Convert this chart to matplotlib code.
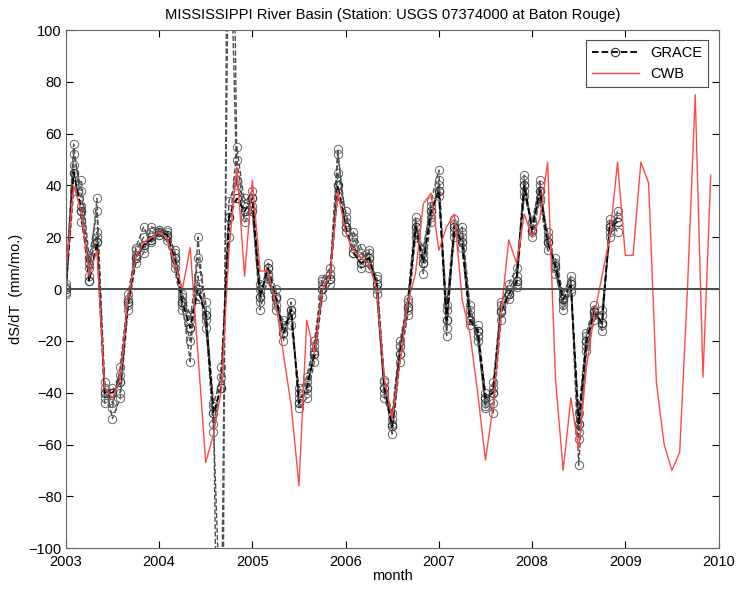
import numpy as np
import matplotlib
matplotlib.use("Agg")
import matplotlib.pyplot as plt

plt.rcParams['font.family'] = ['Liberation Sans', 'DejaVu Sans']

# monthly dS/dT (mm/mo.) starting Jan 2003
grace = [0, 45, 30, 3, 18, -40, -40, -36, -5, 12, 17, 19,
         22, 21, 12, -5, -15, 0, -10, -48, -38, 28, 35, 30,
         35, -3, 8, -3, -17, -8, -44, -38, -25, 0, 4, 40,
         24, 14, 10, 12, 2, -38, -53, -25, -7, 24, 10, 30,
         38, -12, 24, 18, -12, -16, -42, -40, -9, -2, 3, 40,
         23, 38, 18, 9, -4, 2, -52, -20, -9, -13, 24, 26]

# other GRACE solutions (gray dashed)
grace_b = [2, 52, 38, 8, 22, -44, -46, -30, -2, 15, 20, 22,
           21, 19, 8, -8, -20, 5, -15, -45, -260, 290, 50, 28,
           32, 0, 5, -6, -14, -10, -40, -34, -20, 3, 6, 45,
           30, 18, 8, 15, -2, -40, -50, -22, -4, 28, 6, 26,
           42, -8, 27, 20, -8, -18, -45, -36, -5, 0, 5, 44,
           20, 35, 15, 12, -2, 5, -58, -24, -12, -8, 20, 30]
grace_c = [-2, 38, 42, 12, 30, -36, -50, -42, -8, 10, 14, 24,
           23, 22, 15, -3, -12, 12, -5, -52, -140, 160, 40, 35,
           30, -5, 10, 0, -20, -5, -46, -42, -28, -3, 2, 52,
           28, 20, 14, 10, 5, -35, -56, -28, -10, 20, 14, 34,
           46, -15, 22, 16, -14, -14, -40, -48, -12, -4, 1, 36,
           26, 40, 20, 6, -6, -1, -48, -17, -6, -16, 27, 22]
grace_d = [1, 56, 32, 5, 35, -42, -38, -40, -4, 13, 16, 20,
           23, 20, 10, -6, -28, 20, -12, -55, -30, 20, 55, 33,
           38, 2, 6, -4, -15, -10, -42, -40, -24, 2, 6, 54,
           22, 16, 12, 14, 0, -42, -52, -22, -8, 26, 12, 28,
           40, -18, 25, 22, -10, -18, -46, -44, -8, -2, 2, 42,
           22, 42, 18, 10, -5, 3, -68, -22, -10, -14, 25, 28]
grace_e = [-1, 48, 26, 10, 20, -38, -44, -33, -6, 16, 24, 18,
           21, 23, 14, -2, -10, -4, -8, -44, -34, 34, 42, 26,
           30, -8, 4, -8, -12, -14, -38, -36, -22, 4, 8, 36,
           26, 22, 16, 8, 4, -36, -48, -20, -5, 22, 16, 32,
           36, -6, 20, 24, -6, -20, -44, -38, -6, 2, 8, 38,
           26, 34, 22, 8, -8, 0, -55, -18, -8, -10, 22, 28]

cwb = [5, 40, 30, 5, 15, -38, -42, -35, -3, 12, 18, 20,
       22, 20, 10, 0, 16, -25, -67, -56, -39, 15, 47, 5,
       42, 7, 7, -5, -25, -45, -76, -12, -25, 0, 5, 38,
       22, 15, 12, 10, 0, -35, -50, -28, -5, 6, 33, 37,
       15, 24, 29, -4, -17, -40, -66, -45, -10, 19, 10, 29,
       20, 27, 49, -34, -70, -42, -62, -30, -10, 5, 20, 49,
       13, 13, 49, 41, -36, -60, -70, -63, 0, 75, -34, 44]

t_grace = 2003 + np.arange(len(grace)) / 12.0
t_cwb = 2003 + np.arange(len(cwb)) / 12.0

fig = plt.figure(figsize=(7.4, 5.9), dpi=100)
ax = fig.add_axes([0.089, 0.071, 0.882, 0.878])

for s in (grace_b, grace_c, grace_d, grace_e):
    ax.plot(t_grace, s, '--o', color='0.3', lw=1.0, ms=6,
            mfc='none', mec='0.4', mew=0.7)
ax.plot(t_grace, grace, '--o', color='k', lw=1.3, ms=6,
        mfc='none', mec='0.2', mew=0.8, label='GRACE')
ax.plot(t_cwb, cwb, '-', color='#ff4a4a', lw=1.0, label='CWB')
ax.axhline(0, color='0.3', lw=1.4)

ax.set_xlim(2003, 2010)
ax.set_ylim(-100, 100)
ax.set_xticks(range(2003, 2011))
ax.set_yticks(range(-100, 101, 20))
ax.tick_params(direction='in', top=True, right=True, labelsize=10.5,
               length=5)
ax.tick_params(axis='x', pad=5)
ax.tick_params(axis='y', pad=3)
for sp in ax.spines.values():
    sp.set_color('0.4')

ax.set_xlabel('month', fontsize=10.5, labelpad=0)
ax.set_ylabel('dS/dT  (mm/mo.)', fontsize=10.5, labelpad=4)
ax.set_title('MISSISSIPPI River Basin (Station: USGS 07374000 at Baton Rouge)',
             fontsize=10.6, pad=8)
leg = ax.legend(loc='upper right', fontsize=10.5, fancybox=False,
                edgecolor='0.3', framealpha=1, handlelength=3.2,
                borderaxespad=0.7)
leg.get_frame().set_linewidth(0.8)

fig.savefig('out.png', dpi=100)
